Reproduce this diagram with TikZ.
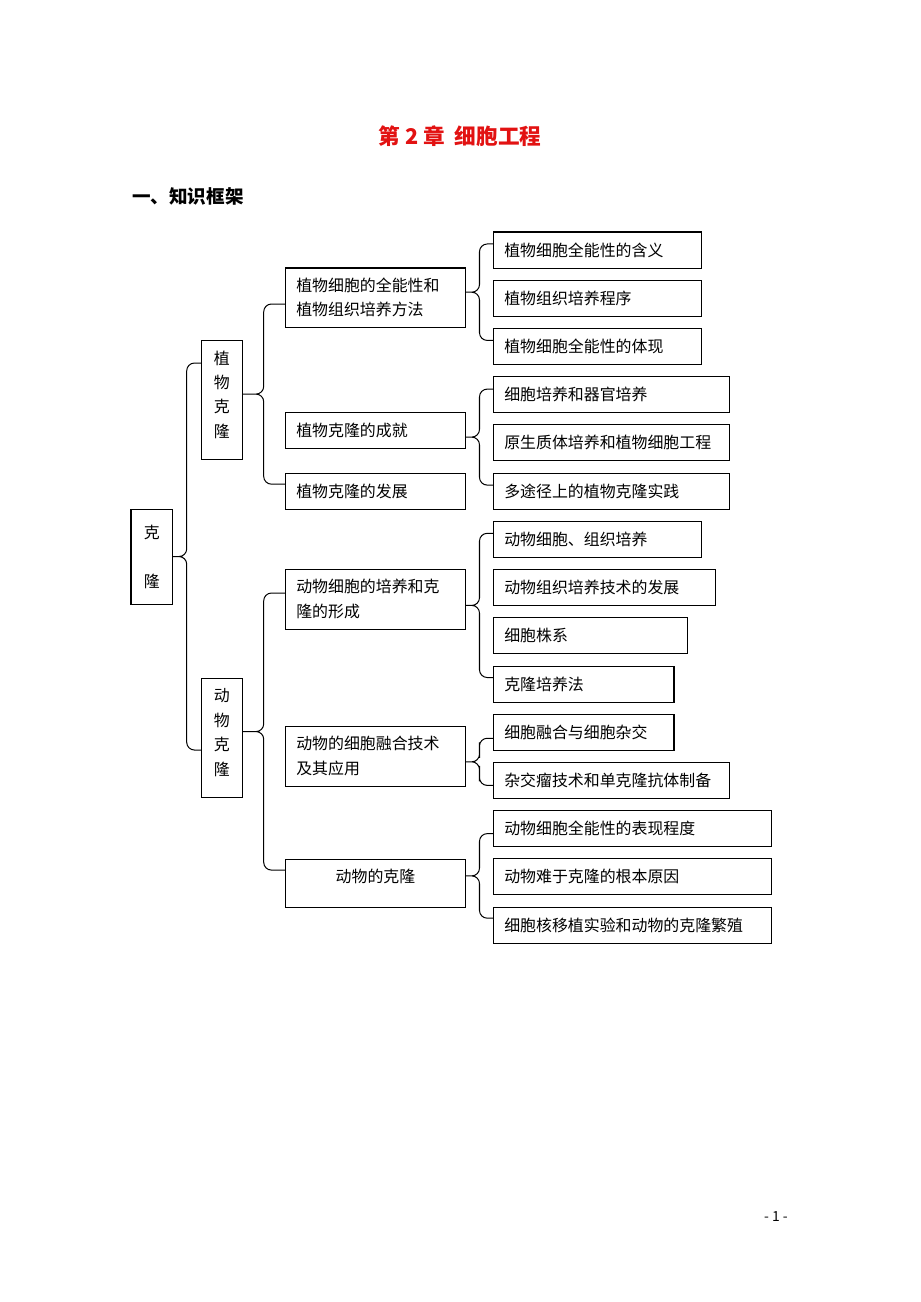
\documentclass[tikz,border=0pt]{standalone}
\usepackage{fontspec}
\setmainfont{Noto Sans CJK SC}
\usepackage{xcolor}
\usepackage{tikz}
\usetikzlibrary{positioning, calc}
\definecolor{titlered}{RGB}{226,18,18}
\tikzset{
    root/.style={
        rectangle,
        draw=black,
        line width=0.65pt,
        minimum width=26.8pt,
        minimum height=#1,
        inner sep=0pt,
        outer sep=0pt,
        align=center,
        font=\fontsize{10.3pt}{15.8pt}\selectfont
    },
    topic/.style={
        rectangle,
        draw=black,
        line width=0.65pt,
        minimum height=23.3pt,
        inner xsep=7.3pt,
        inner ysep=0pt,
        outer sep=0pt,
        text width=#1,
        align=left,
        font=\fontsize{10.3pt}{15.8pt}\selectfont
    },
    leaf/.style={
        topic=#1,
        anchor=north west
    },
    bracket/.style={
        draw=black,
        line width=0.65pt,
        rounded corners=5pt
    }
}
% curly bracket from a parent tip to two end points
\newcommand\bracelink[3]{%
  \coordinate (ba) at (#2);
  \coordinate (bb) at (#3);
  \coordinate (bm) at ($(ba)!0.5!(bb)$);
  \coordinate (bt) at (#1.east |- bm);
  \draw[bracket] (ba) -| ($(bt)!0.5!(ba)$) |- (bt)
                 (bt) -| ($(bt)!0.5!(bb)$) |- (bb);
}

\begin{document}
\begin{tikzpicture}[x=0.647pt, y=-0.647pt]
\useasboundingbox (0,0) rectangle (920,1302);

% Headings
\node[font=\fontsize{14pt}{16pt}\selectfont\bfseries, text=titlered] (title) at (460,136) {第 2 章\ \ 细胞工程};
\node[font=\fontsize{12pt}{14pt}\selectfont\bfseries, anchor=west, inner sep=0pt] (heading) at (132,196) {一、知识框架};

% Roots
\node[root=62.1pt, anchor=north west] (clone) at (131,509) {克\\[15.8pt]隆};
\node[root=77.6pt, anchor=north west] (plant) at (201,340) {植\\物\\克\\隆\\[-8pt]};
\node[root=77.6pt, anchor=north west] (animal) at (201,678) {动\\物\\克\\隆\\[-8pt]};

% Plant topics
\node[topic=102.5pt, minimum height=38.2pt, anchor=north west] (pt1) at (285,268) {植物细胞的全能性和\\植物组织培养方法};
\node[topic=102.5pt, below=55pt of pt1.south west, anchor=north west] (pt2) {植物克隆的成就};
\node[topic=102.5pt, below=16.2pt of pt2.south west, anchor=north west] (pt3) {植物克隆的发展};

% Animal topics
\node[topic=102.5pt, minimum height=38.8pt, below=38.8pt of pt3.south west, anchor=north west] (at1) {动物细胞的培养和克\\隆的形成};
\node[topic=102.5pt, minimum height=38.8pt, below=62.8pt of at1.south west, anchor=north west] (at2) {动物的细胞融合技术\\及其应用};
\node[topic=102.5pt, minimum height=31.1pt, align=center, below=47.2pt of at2.south west, anchor=north west] (at3) {\raisebox{4.5pt}[\height][\depth]{动物的克隆}};

% Leaves
\node[leaf=120.6pt] (lf1) at (493,232) {植物细胞全能性的含义};
\node[leaf=120.6pt, below=7.9pt of lf1.south west, anchor=north west] (lf2) {植物组织培养程序};
\node[leaf=120.6pt, below=7.9pt of lf2.south west, anchor=north west] (lf3) {植物细胞全能性的体现};
\node[leaf=138.7pt, below=7.9pt of lf3.south west, anchor=north west] (lf4) {细胞培养和器官培养};
\node[leaf=138.7pt, below=7.9pt of lf4.south west, anchor=north west] (lf5) {原生质体培养和植物细胞工程};
\node[leaf=138.7pt, below=7.9pt of lf5.south west, anchor=north west] (lf6) {多途径上的植物克隆实践};
\node[leaf=120.6pt, below=7.9pt of lf6.south west, anchor=north west] (lf7) {动物细胞、组织培养};
\node[leaf=129.6pt, below=7.9pt of lf7.south west, anchor=north west] (lf8) {动物组织培养技术的发展};
\node[leaf=111.5pt, below=7.9pt of lf8.south west, anchor=north west] (lf9) {细胞株系};
\node[leaf=102.5pt, below=7.9pt of lf9.south west, anchor=north west] (lf10) {克隆培养法};
\node[leaf=102.5pt, below=7.9pt of lf10.south west, anchor=north west] (lf11) {细胞融合与细胞杂交};
\node[leaf=138.7pt, below=7.9pt of lf11.south west, anchor=north west] (lf12) {杂交瘤技术和单克隆抗体制备};
\node[leaf=165.9pt, below=7.9pt of lf12.south west, anchor=north west] (lf13) {动物细胞全能性的表现程度};
\node[leaf=165.9pt, below=7.9pt of lf13.south west, anchor=north west] (lf14) {动物难于克隆的根本原因};
\node[leaf=165.9pt, below=7.9pt of lf14.south west, anchor=north west] (lf15) {细胞核移植实验和动物的克隆繁殖};

% Brackets
\bracelink{clone}{[yshift=23.9pt]plant.west}{[yshift=-7.8pt]animal.west}
\bracelink{plant}{[yshift=-4.2pt]pt1.west}{[yshift=4.5pt]pt3.west}
\bracelink{animal}{[yshift=3.9pt]at1.west}{[yshift=8.4pt]at3.west}
\bracelink{pt1}{[yshift=3.9pt]lf1.west}{[yshift=3.9pt]lf3.west}
\bracelink{pt2}{[yshift=3.6pt]lf4.west}{[yshift=3.9pt]lf6.west}
\bracelink{at1}{[yshift=3.9pt]lf7.west}{[yshift=4.2pt]lf10.west}
\bracelink{at2}{[yshift=-3.9pt]lf11.west}{[yshift=-3.2pt]lf12.west}
\bracelink{at3}{[yshift=-3.2pt]lf13.west}{[yshift=4.5pt]lf15.west}

% Page number
\node[font=\fontsize{9pt}{10pt}\selectfont] (pageno) at (776,1217) {- 1 -};

\end{tikzpicture}
\end{document}
